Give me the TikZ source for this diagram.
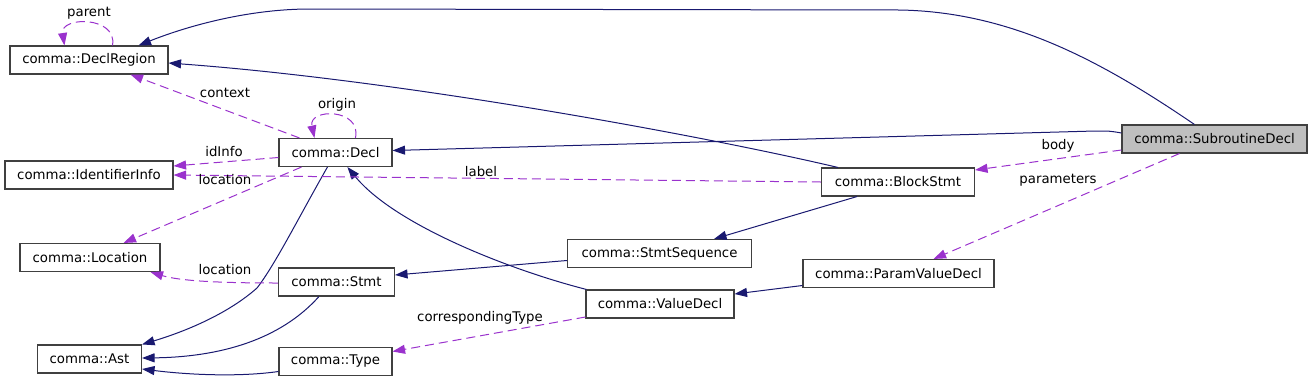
\documentclass[tikz,border=0pt]{standalone}
\usepackage{fontspec}
\setmainfont{DejaVu Sans}
\usepackage{xcolor}
\usepackage{tikz}
\usetikzlibrary{arrows.meta}
\definecolor{navy}{HTML}{191970}
\definecolor{orchid}{HTML}{9A32CD}
\definecolor{boxline}{HTML}{404040}
\definecolor{focusgray}{HTML}{BFBFBF}
\tikzset{
  >={Triangle[length=12.5pt,width=9pt]},
  cls/.style={draw=boxline,line width=1.1pt,fill=white,minimum height=28pt,inner sep=0pt,
              font=\fontsize{13.3}{16}\selectfont},
  focus/.style={cls,fill=focusgray},
  inherit/.style={->,line width=1pt,draw=navy},
  member/.style={->,line width=1pt,draw=orchid,dash pattern=on 9pt off 5pt},
  lbl/.style={inner sep=0pt,font=\fontsize{13.3}{16}\selectfont}
}
\begin{document}
\begin{tikzpicture}[x=1pt,y=-1pt]
  \useasboundingbox (0,0) rectangle (1312,381);
  % classes
  \node[cls,minimum width=158pt] (region) at (89,60) {comma::DeclRegion};
  \node[cls,minimum width=168pt] (idinfo) at (89,175) {comma::IdentifierInfo};
  \node[cls,minimum width=113pt] (decl) at (335.5,152.5) {comma::Decl};
  \node[cls,minimum width=140pt] (loc) at (90,257.5) {comma::Location};
  \node[cls,minimum width=116pt] (stmt) at (336.5,282) {comma::Stmt};
  \node[cls,minimum width=104pt] (ast) at (89.5,359) {comma::Ast};
  \node[cls,minimum width=113pt] (type) at (335.5,361.5) {comma::Type};
  \node[cls,minimum width=184pt] (seq) at (659.5,253.5) {comma::StmtSequence};
  \node[cls,minimum width=148pt] (valdecl) at (660,304) {comma::ValueDecl};
  \node[cls,minimum width=153pt] (block) at (898,182) {comma::BlockStmt};
  \node[cls,minimum width=191pt] (param) at (898.5,273.5) {comma::ParamValueDecl};
  \node[focus,minimum width=185pt] (sub) at (1214.5,139) {comma::SubroutineDecl};
  % inheritance / usage (solid)
  \draw[inherit] ([xshift=73pt]sub.north west) .. controls (1100,60) and (1010,12) .. (900,10)
    -- (310,9) .. controls (250,9) and (190,25) .. ([xshift=-30pt]region.north east);
  \draw[inherit] ([xshift=17pt]block.north west) .. controls (700,135) and (400,80) .. ([yshift=-3pt]region.east);
  \draw[inherit] ([yshift=6pt]sub.west) .. controls (1110,131) .. (1095,131) -- ([yshift=2pt]decl.east);
  \draw[inherit] ([xshift=49pt]decl.south west) .. controls (300,215) and (275,265) .. (257,288)
    .. controls (230,312) and (190,330) .. (ast.north east);
  \draw[inherit] ([xshift=41pt]stmt.south west) .. controls (280,340) and (220,357) .. ([yshift=1pt]ast.east);
  \draw[inherit] ([yshift=-10pt]type.west) .. controls (240,377) and (190,375) .. ([yshift=-10pt]ast.east);
  \draw[inherit] ([xshift=1pt]valdecl.north west) .. controls (510,270) and (395,225) .. ([xshift=69pt]decl.south west);
  \draw[inherit] ([yshift=-7pt]seq.west) -- ([yshift=7pt]stmt.east);
  \draw[inherit] ([xshift=36pt]block.south west) -- ([xshift=-38pt]seq.north east);
  \draw[inherit] ([yshift=-12pt]param.west) -- ([yshift=10pt]valdecl.east);
  % members (dashed)
  \draw[member] ([xshift=103pt]region.north west) .. controls (118,16) and (60,16) .. ([xshift=55pt]region.north west);
  \draw[member] ([xshift=21pt]decl.north west) -- ([xshift=-38pt]region.south east);
  \draw[member] ([xshift=77pt]decl.north west) .. controls (362,108) and (308,108) .. ([xshift=36pt]decl.north west);
  \draw[member] ([yshift=-5pt]decl.west) -- ([yshift=9pt]idinfo.east);
  \draw[member] (block.west) -- (idinfo.east);
  \draw[member] ([xshift=23pt]decl.south west) -- ([xshift=-37pt]loc.north east);
  \draw[member] ([yshift=-1pt]stmt.west) .. controls (220,283) and (180,281) .. ([xshift=-10pt]loc.south east);
  \draw[member] ([yshift=-11pt]sub.west) -- ([yshift=12pt]block.east);
  \draw[member] ([xshift=58pt]sub.south west) -- ([xshift=-61pt]param.north east);
  \draw[member] ([yshift=-13pt]valdecl.west) -- ([yshift=10pt]type.east);
  % labels
  \node[lbl] (lparent) at (89,13) {parent};
  \node[lbl] (lcontext) at (225,93) {context};
  \node[lbl] (lorigin) at (337,105) {origin};
  \node[lbl] (lidinfo) at (224,152) {idInfo};
  \node[lbl] (lloc) at (225,180) {location};
  \node[lbl] (llabel) at (481,172) {label};
  \node[lbl] (lstmtloc) at (225,270) {location};
  \node[lbl] (ltype) at (480,318) {correspondingType};
  \node[lbl] (lbody) at (1058,146) {body};
  \node[lbl] (lparams) at (1058,180) {parameters};
\end{tikzpicture}
\end{document}
